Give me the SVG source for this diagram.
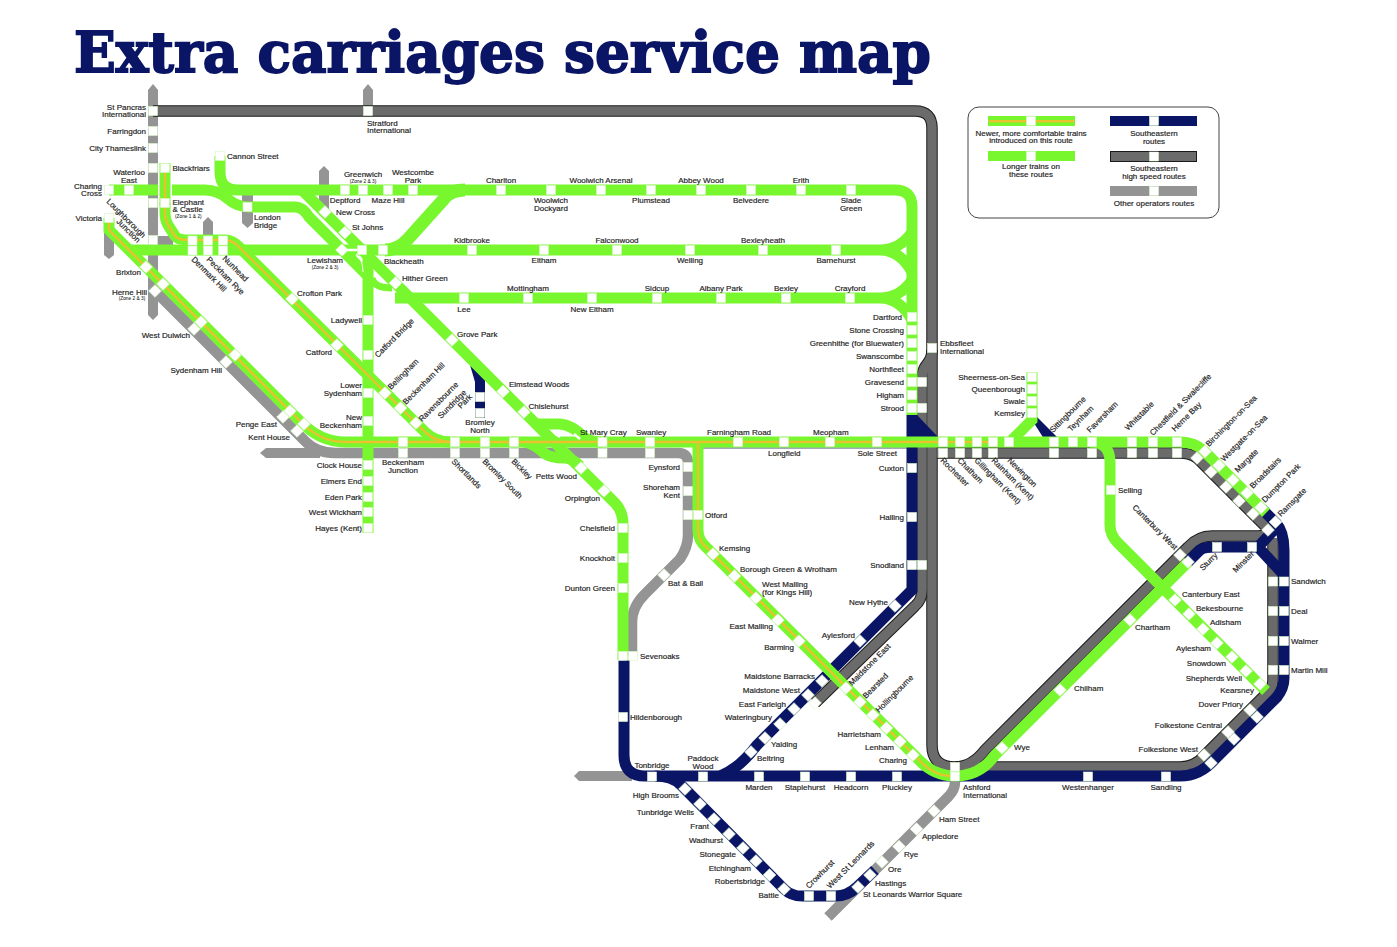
<svg xmlns="http://www.w3.org/2000/svg" width="1397" height="947" viewBox="0 0 1397 947">
<style>
text{font-family:"Liberation Sans",Arial,sans-serif;font-size:8px;fill:#232323;stroke:#232323;stroke-width:.18}
.e{text-anchor:end}.m{text-anchor:middle}
.z{font-size:4.8px;stroke-width:.05}
.title{font-family:"DejaVu Serif",serif;font-weight:700;font-size:56px;fill:#0a1565;stroke:#0a1565;stroke-width:1.8}
path,line{fill:none}
.o{stroke:#949494;stroke-width:10.5}
.of{fill:#949494}
.hc{stroke:#1a1a1a;stroke-width:11.5}
.h{stroke:#6b6b6b;stroke-width:9.5}
.n{stroke:#0a1565;stroke-width:11}
.nf{fill:#0a1565}
.g{stroke:#78f72e;stroke-width:11}
.y{stroke:#e9c32d;stroke-width:2.4}
.st{fill:#fff;stroke:#d8f7c6;stroke-width:.6}
</style>
<defs>
<rect id="s" class="st" x="-4.5" y="-4.500" width="9" height="9"/>
<rect id="d" class="st" x="-4.5" y="-4.500" width="9" height="9" transform="rotate(45)"/>
</defs>
<text class="title" x="74" y="72" textLength="857" lengthAdjust="spacingAndGlyphs">Extra carriages service map</text>

<g id="connectors">
<g id="other-operators">
<polygon class="of" points="148,90 153,84 158,90 158,315 153,320 148,315"/>
<polygon class="of" points="363,90 368,84 373,90 373,112 363,112"/>
<polygon class="of" points="104,218 114,218 114,255 109,259 104,255"/>
<polygon class="of" points="203,222 208,217 213,222 213,241 203,241"/>
<polygon class="of" points="242,195 253,195 253,223 247.5,228 242,223"/>
<polygon class="of" points="319,171 324,166 329,171 329,214 319,214"/>
<polygon class="of" points="574,776 579,771 632,771 632,781 579,781"/>
<polygon class="of" points="260,453 266,448 320,448 320,458 266,458"/>
<rect class="of" x="153" y="236" width="20" height="10"/>
<path class="o" d="M155,291 L306,442 Q317,453 335,453 L678,453 Q688,453 688,463 L688,535 Q688,547 680,559 L645,594 Q632,607 632,622 L632,656"/>
<path class="o" d="M955,780 L955,782 Q955,790 948,797 L828,917"/>
</g>
<g id="high-speed">
<path class="hc" d="M153,111 L915,111 Q932,111 932,128 L932,745 Q932,767 955,767 Q972,767 985,750 L1188,547 Q1198,536 1212,536 L1258,536 Q1265,536 1272,530"/>
<path class="hc" d="M932,350 Q932,358 927,364 Q922,370 922,378 L922,590 Q922,600 915,606 L815,703"/>
<path class="hc" d="M937,453 L1180,453 Q1190,453 1197,458 L1272,533"/>
<path class="hc" d="M955,767 L1180,767 Q1195,767 1205,755 L1266,694 Q1273,688 1273,680 L1273,538"/>
<path class="h" d="M153,111 L915,111 Q932,111 932,128 L932,745 Q932,767 955,767 Q972,767 985,750 L1188,547 Q1198,536 1212,536 L1258,536 Q1265,536 1272,530"/>
<path class="h" d="M932,350 Q932,358 927,364 Q922,370 922,378 L922,590 Q922,600 915,606 L815,703"/>
<path class="h" d="M937,453 L1180,453 Q1190,453 1197,458 L1272,533"/>
<path class="h" d="M955,767 L1180,767 Q1195,767 1205,755 L1266,694 Q1273,688 1273,680 L1273,538"/>
</g>
<g id="southeastern">
<path class="n" d="M624,660 L624,755 Q624,776 645,776 L1180,776 Q1200,776 1215,759 L1277,697 Q1284,688 1284,678 L1284,550 Q1284,532 1276,523 L1262,509"/>
<path class="n" d="M912,415 L912,590 L757,745 Q740,768 720,776"/>
<path class="n" d="M655,776 Q672,776 681,785 L784,889 Q792,897 805,896 L835,896 Q848,896 857,887 L875,870"/>
<path class="n" d="M1188,562 L1200,550 Q1204,547 1215,547 L1258,547 L1284,575 M1258,547 L1274,530"/>
<polygon class="nf" points="907,415 917,415 938,437 938,442 907,442"/>
<polygon class="nf" points="1032,420 1037,417 1057,437 1057,442 1046,442"/>
<polygon class="nf" points="470,365 485,380 485,418 475,418 475,382"/>
</g>
<g id="longer-trains">
<path class="g" d="M1188,562 L995,755 Q980,776 955,776"/>
<path class="g" d="M1090,442 Q1110,442 1110,462 L1110,525 Q1110,535 1118,543 L1266,691"/>
<path class="g" d="M109,190 L158,190"/>
<path class="g" d="M172,190 L205,190 Q218,190 228,199 Q237,207 250,207 L295,207 Q303,207 309,217 L368,276"/>
<path class="g" d="M220,156 L220,172 Q220,190 238,190 L895,190 Q912,190 912,207 L912,415"/>
<path class="g" d="M302,190 L615,503 Q623,511 623,525 L623,660"/>
<path class="g" d="M130,250 L880,250 Q900,250 912,232 M880,250 Q900,250 912,272"/>
<path class="g" d="M368,250 L368,533"/>
<path class="g" d="M395,298 L880,298 Q900,298 912,280 M880,298 Q900,298 912,320"/>
<path class="g" style="stroke-width:13" d="M385,250 Q398,250 408,239 L443,200 Q450,190 465,190"/>
<path class="g" style="stroke-width:7" d="M372,278 Q374,288 392,288"/>
<path class="g" d="M536,424 L560,424 Q572,425 584,437 Q590,442 602,442"/>
<path class="g" d="M525,442 Q535,444 544,453 Q550,458 565,458 Q572,458 580,466"/>
<path class="g" d="M1032,372 L1032,420 L1012,440"/>
<line x1="702" y1="448" x2="908" y2="448" stroke="#1a2a50" stroke-width=".8"/>
<path class="g" d="M109,218 L109,230 L300,421 Q320,442 345,442 L1180,442 Q1195,442 1204,451 L1266,513"/>
<line x1="171" y1="184" x2="171" y2="197" stroke="#fff" stroke-width="2"/>
<path class="g" d="M165,163 L165,205"/>
<path class="g" d="M165,203 L165,212 Q165,220 168,225 L175,236 Q178,240 188,240 L225,240 Q232,240 238,246 L425,432 Q436,442 450,442"/>
<path class="g" d="M698,442 L698,530 Q698,540 706,547 L920,761 Q935,776 955,776"/>
<path class="y" d="M109,222 L109,230 L300,421 Q320,442 345,442 L988,442"/>
<path class="y" d="M165,170 L165,212 Q165,220 168,225 L175,236 Q178,240 188,240 L225,240 Q232,240 238,246 L425,432 Q436,442 450,442"/>
<path class="y" d="M698,442 L698,530 Q698,540 706,547 L920,761 Q935,776 950,776"/>
<line x1="342" y1="250" x2="362" y2="250" stroke="#fff" stroke-width="2.5"/>
<path d="M356,254 Q363,260 363,272" stroke="#fff" stroke-width="1"/>
<path d="M311,210 L342,241" stroke="#fff" stroke-width="1"/>
<path d="M554,432 L560,437 M574,434 L580,439" stroke="#fff" stroke-width="2.5"/>
</g>
</g>

<g id="legend">
<rect x="968" y="107" width="251" height="111" rx="11" fill="#fff" stroke="#444" stroke-width="1"/>
<rect x="988" y="116" width="87" height="10" fill="#78f72e"/><rect x="989" y="120" width="85" height="2.400" fill="#e9c32d"/><use href="#s" x="1031" y="121"/>
<rect x="988" y="151" width="87" height="10" fill="#78f72e"/><use href="#s" x="1031" y="156"/>
<rect x="1110" y="116" width="87" height="10" fill="#0a1565"/><use href="#s" x="1154" y="121"/>
<rect x="1110.500" y="151.500" width="86" height="10" fill="#6b6b6b" stroke="#1a1a1a"/><use href="#s" x="1154" y="156.500"/>
<rect x="1110" y="186" width="87" height="10" fill="#949494"/><use href="#s" x="1154" y="191"/>
<text class="m"><tspan x="1031" y="135.500">Newer, more comfortable trains</tspan><tspan x="1031" y="143">introduced on this route</tspan></text>
<text class="m"><tspan x="1031" y="169">Longer trains on</tspan><tspan x="1031" y="177">these routes</tspan></text>
<text class="m"><tspan x="1154" y="136">Southeastern</tspan><tspan x="1154" y="143.500">routes</tspan></text>
<text class="m"><tspan x="1154" y="171">Southeastern</tspan><tspan x="1154" y="178.500">high speed routes</tspan></text>
<text class="m" x="1154" y="205.500">Other operators routes</text>
</g>

<g id="stations">
<g id="st-pancras"><use href="#s" x="153" y="111"/><text class="e"><tspan x="146" y="109.500">St Pancras</tspan><tspan x="146" y="117">International</tspan></text></g>
<g id="stratford"><use href="#s" x="368" y="111"/><text><tspan x="367" y="125.500">Stratford</tspan><tspan x="367" y="133">International</tspan></text></g>
<g id="farringdon"><use href="#s" x="153" y="131"/><text class="e" x="146" y="134">Farringdon</text></g>
<g id="city-thameslink"><use href="#s" x="153" y="148"/><text class="e" x="146" y="151">City Thameslink</text></g>
<g id="charing-cross"><use href="#s" x="109" y="190"/><text class="e"><tspan x="102" y="188.500">Charing</tspan><tspan x="102" y="196">Cross</tspan></text></g>
<g id="waterloo-east"><use href="#s" x="129" y="190"/><text class="m"><tspan x="129" y="175">Waterloo</tspan><tspan x="129" y="183">East</tspan></text></g>
<g id="victoria"><use href="#s" x="109" y="218"/><text class="e" x="102" y="220.500">Victoria</text></g>
<g id="blackfriars"><use href="#s" x="153" y="168"/><use href="#s" x="165" y="168"/><text x="172.500" y="170.500">Blackfriars</text></g>
<g id="elephant-castle"><use href="#s" x="153" y="203"/><use href="#s" x="165" y="203"/><text><tspan x="172.500" y="204.500">Elephant</tspan><tspan x="172.500" y="212">&amp; Castle</tspan></text><text class="z" x="175" y="217.500">(Zone 1 &amp; 2)</text></g>
<g id="cannon-street"><use href="#s" x="220" y="156"/><text x="227" y="158.500">Cannon Street</text></g>
<g id="loughborough-junction"><use href="#s" x="153" y="240"/><text transform="translate(106,202) rotate(45)">Loughborough</text><text transform="translate(116,222) rotate(45)">Junction</text></g>
<g id="denmark-hill"><use href="#s" x="192.500" y="240.500"/><use href="#s" x="192.500" y="250.500"/><text transform="translate(191,260) rotate(45)">Denmark Hill</text></g>
<g id="peckham-rye"><use href="#s" x="208" y="240.500"/><use href="#s" x="208" y="250.500"/><text transform="translate(206,260) rotate(45)">Peckham Rye</text></g>
<g id="nunhead"><use href="#s" x="223" y="240.500"/><use href="#s" x="223" y="250.500"/><text transform="translate(222,259) rotate(45)">Nunhead</text></g>
<g id="greenwich"><use href="#s" x="363" y="190"/><text class="m" x="363" y="177">Greenwich</text><text class="z m" x="363" y="182.500">(Zone 2 &amp; 3)</text></g>
<g id="westcombe-park"><use href="#s" x="413" y="190"/><text class="m"><tspan x="413" y="175">Westcombe</tspan><tspan x="413" y="183">Park</tspan></text></g>
<g id="deptford"><use href="#s" x="345" y="190"/><text class="m" x="345" y="203">Deptford</text></g>
<g id="maze-hill"><use href="#s" x="388" y="190"/><text class="m" x="388" y="203">Maze Hill</text></g>
<g id="new-cross"><use href="#d" x="325" y="212"/><text x="336" y="215">New Cross</text></g>
<g id="st-johns"><use href="#d" x="345" y="232.500"/><text x="352" y="230">St Johns</text></g>
<g id="london-bridge"><use href="#s" x="247.500" y="207"/><text><tspan x="254" y="220">London</tspan><tspan x="254" y="227.500">Bridge</tspan></text></g>
<g id="lewisham"><use href="#d" x="342" y="250"/><use href="#s" x="362" y="250"/><text class="m" x="325" y="263">Lewisham</text><text class="z m" x="325" y="268.500">(Zone 2 &amp; 3)</text></g>
<g id="blackheath"><use href="#s" x="383" y="250"/><text x="384" y="264">Blackheath</text></g>
<g id="hither-green"><use href="#d" x="395.500" y="283"/><text x="402" y="281">Hither Green</text></g>
<g id="crofton-park"><use href="#d" x="292" y="299"/><text x="297" y="296">Crofton Park</text></g>
<g id="ladywell"><use href="#s" x="368" y="320"/><text class="e" x="362" y="323">Ladywell</text></g>
<g id="catford-bridge"><use href="#s" x="368" y="355"/><text transform="translate(378,358) rotate(-45)">Catford Bridge</text></g>
<g id="catford"><use href="#d" x="337" y="345"/><text class="e" x="332" y="355">Catford</text></g>
<g id="brixton"><use href="#d" x="146" y="267"/><text class="e" x="141" y="274.500">Brixton</text></g>
<g id="loughborough-diag"><use href="#d" x="163" y="284"/></g>
<g id="herne-hill"><use href="#d" x="155" y="291"/><text class="e" x="147" y="295">Herne Hill</text><text class="z m" x="132" y="300">(Zone 2 &amp; 3)</text></g>
<g id="west-dulwich"><use href="#d" x="194" y="329"/><use href="#d" x="201" y="322"/><text class="e" x="190" y="338">West Dulwich</text></g>
<g id="sydenham-hill"><use href="#d" x="226" y="362"/><use href="#d" x="235" y="355"/><text class="e" x="222" y="372.500">Sydenham Hill</text></g>
<g id="penge-east"><use href="#d" x="283" y="417"/><use href="#d" x="290" y="411"/><text class="e" x="277" y="427">Penge East</text></g>
<g id="kent-house"><use href="#d" x="297" y="431"/><use href="#d" x="304" y="424"/><text class="e" x="290" y="440">Kent House</text></g>
<g id="lower-sydenham"><use href="#s" x="368" y="393"/><text class="e"><tspan x="362" y="388">Lower</tspan><tspan x="362" y="396">Sydenham</tspan></text></g>
<g id="new-beckenham"><use href="#s" x="368" y="421"/><text class="e"><tspan x="362" y="420">New</tspan><tspan x="362" y="427.500">Beckenham</tspan></text></g>
<g id="clock-house"><use href="#s" x="368" y="465"/><text class="e" x="362" y="468">Clock House</text></g>
<g id="elmers-end"><use href="#s" x="368" y="481"/><text class="e" x="362" y="484">Elmers End</text></g>
<g id="eden-park"><use href="#s" x="368" y="497"/><text class="e" x="362" y="499.500">Eden Park</text></g>
<g id="west-wickham"><use href="#s" x="368" y="512"/><text class="e" x="362" y="515">West Wickham</text></g>
<g id="hayes"><use href="#s" x="368" y="528"/><text class="e" x="362" y="531">Hayes (Kent)</text></g>
<g id="beckenham-junction"><use href="#s" x="403" y="442"/><use href="#s" x="403" y="453"/><text class="m"><tspan x="403" y="465">Beckenham</tspan><tspan x="403" y="472.500">Junction</tspan></text></g>
<g id="bellingham"><use href="#d" x="385" y="393"/><text transform="translate(391,390) rotate(-45)">Bellingham</text></g>
<g id="beckenham-hill"><use href="#d" x="400.500" y="408"/><text transform="translate(406,405) rotate(-45)">Beckenham Hill</text></g>
<g id="ravensbourne"><use href="#d" x="416" y="423"/><text transform="translate(422,422) rotate(-45)">Ravensbourne</text></g>
<g id="sundridge-park"><use href="#s" x="480" y="397"/><text transform="translate(441,419) rotate(-45)">Sundridge</text><text transform="translate(461,409) rotate(-45)">Park</text></g>
<g id="bromley-north"><use href="#s" x="480" y="413"/><text class="m"><tspan x="480" y="425">Bromley</tspan><tspan x="480" y="432.500">North</tspan></text></g>
<g id="grove-park"><use href="#d" x="452" y="340"/><text x="457" y="336.500">Grove Park</text></g>
<g id="elmstead-woods"><use href="#d" x="503" y="391.500"/><text x="509" y="387">Elmstead Woods</text></g>
<g id="chislehurst"><use href="#d" x="524" y="412"/><text x="528.500" y="408.500">Chislehurst</text></g>
<g id="shortlands"><use href="#s" x="455" y="442"/><use href="#s" x="455" y="453"/><text transform="translate(451,462) rotate(45)">Shortlands</text></g>
<g id="bromley-south"><use href="#s" x="485" y="442"/><use href="#s" x="485" y="453"/><text transform="translate(482,462) rotate(45)">Bromley South</text></g>
<g id="bickley"><use href="#s" x="514" y="442"/><use href="#s" x="514" y="453"/><text transform="translate(511,462) rotate(45)">Bickley</text></g>
<g id="st-mary-cray"><use href="#s" x="602.500" y="442"/><use href="#s" x="602.500" y="453"/><text x="580" y="434.500">St Mary Cray</text></g>
<g id="swanley"><use href="#s" x="650" y="442"/><use href="#s" x="650" y="453"/><text x="636" y="434.500">Swanley</text></g>
<g id="farningham-road"><use href="#s" x="738" y="442"/><text x="707" y="434.500">Farningham Road</text></g>
<g id="longfield"><use href="#s" x="784" y="442"/><text x="768" y="456">Longfield</text></g>
<g id="meopham"><use href="#s" x="830" y="442"/><text x="813" y="434.500">Meopham</text></g>
<g id="sole-street"><use href="#s" x="877" y="442"/><text x="857.500" y="456">Sole Street</text></g>
<g id="petts-wood"><use href="#d" x="581" y="468"/><text class="e" x="577" y="478.500">Petts Wood</text></g>
<g id="orpington"><use href="#d" x="604" y="491"/><text class="e" x="600" y="500.500">Orpington</text></g>
<g id="chelsfield"><use href="#s" x="623" y="528"/><text class="e" x="615" y="530.500">Chelsfield</text></g>
<g id="knockholt"><use href="#s" x="623" y="558"/><text class="e" x="615" y="560.500">Knockholt</text></g>
<g id="dunton-green"><use href="#s" x="623" y="588"/><text class="e" x="615" y="590.500">Dunton Green</text></g>
<g id="sevenoaks"><use href="#s" x="623" y="656"/><use href="#s" x="633" y="656"/><text x="640" y="658.500">Sevenoaks</text></g>
<g id="hildenborough"><use href="#s" x="623" y="717"/><text x="630" y="720">Hildenborough</text></g>
<g id="eynsford"><use href="#s" x="688" y="467"/><text class="e" x="680" y="470">Eynsford</text></g>
<g id="shoreham"><use href="#s" x="688" y="491"/><text class="e"><tspan x="680" y="490">Shoreham</tspan><tspan x="680" y="497.500">Kent</tspan></text></g>
<g id="otford"><use href="#s" x="688" y="515"/><use href="#s" x="698" y="515"/><text x="705" y="518">Otford</text></g>
<g id="bat-ball"><use href="#d" x="664" y="575"/><text x="668" y="586">Bat &amp; Ball</text></g>
<g id="kemsing"><use href="#d" x="713" y="554"/><text x="719" y="551">Kemsing</text></g>
<g id="borough-green"><use href="#d" x="734.500" y="576"/><text x="740" y="572">Borough Green &amp; Wrotham</text></g>
<g id="west-malling"><use href="#d" x="756" y="598"/><text><tspan x="762" y="587">West Malling</tspan><tspan x="762" y="595">(for Kings Hill)</tspan></text></g>
<g id="east-malling"><use href="#d" x="778" y="620"/><text class="e" x="773" y="629">East Malling</text></g>
<g id="barming"><use href="#d" x="799" y="641"/><text class="e" x="794" y="649.500">Barming</text></g>
<g id="maidstone-east"><use href="#d" x="846" y="688"/><text transform="translate(852,686) rotate(-45)">Maidstone East</text></g>
<g id="bearsted"><use href="#d" x="860" y="702"/><text transform="translate(866,699) rotate(-45)">Bearsted</text></g>
<g id="hollingbourne"><use href="#d" x="873" y="715"/><text transform="translate(879,713) rotate(-45)">Hollingbourne</text></g>
<g id="harrietsham"><use href="#d" x="886.500" y="728"/><text class="e" x="881" y="737">Harrietsham</text></g>
<g id="lenham"><use href="#d" x="900" y="741.500"/><text class="e" x="894" y="750">Lenham</text></g>
<g id="charing"><use href="#d" x="913" y="755"/><text class="e" x="907" y="763">Charing</text></g>
<g id="maidstone-barracks"><use href="#d" x="822" y="681"/><text class="e" x="815" y="678.500">Maidstone Barracks</text></g>
<g id="maidstone-west"><use href="#d" x="808" y="695"/><use href="#d" x="815" y="703"/><text class="e" x="800" y="692.500">Maidstone West</text></g>
<g id="east-farleigh"><use href="#d" x="794" y="709"/><text class="e" x="786" y="707">East Farleigh</text></g>
<g id="wateringbury"><use href="#d" x="780" y="724"/><text class="e" x="772" y="720">Wateringbury</text></g>
<g id="yalding"><use href="#d" x="765" y="738"/><text x="771" y="747">Yalding</text></g>
<g id="beltring"><use href="#d" x="751" y="752"/><text x="757" y="761">Beltring</text></g>
<g id="aylesford"><use href="#d" x="860" y="641"/><text class="e" x="855" y="638">Aylesford</text></g>
<g id="new-hythe"><use href="#d" x="895" y="606"/><text class="e" x="888" y="605">New Hythe</text></g>
<g id="snodland"><use href="#s" x="912" y="565"/><use href="#s" x="922" y="565"/><text class="e" x="904" y="568">Snodland</text></g>
<g id="halling"><use href="#s" x="912" y="517"/><text class="e" x="904" y="520">Halling</text></g>
<g id="cuxton"><use href="#s" x="912" y="468"/><text class="e" x="904" y="471">Cuxton</text></g>
<g id="tonbridge"><use href="#s" x="652" y="776.500"/><text class="m" x="652" y="768">Tonbridge</text></g>
<g id="paddock-wood"><use href="#s" x="703" y="776.500"/><text class="m"><tspan x="703" y="761">Paddock</tspan><tspan x="703" y="768.500">Wood</tspan></text></g>
<g id="marden"><use href="#s" x="759" y="776.500"/><text class="m" x="759" y="790">Marden</text></g>
<g id="staplehurst"><use href="#s" x="805" y="776.500"/><text class="m" x="805" y="790">Staplehurst</text></g>
<g id="headcorn"><use href="#s" x="851" y="776.500"/><text class="m" x="851" y="790">Headcorn</text></g>
<g id="pluckley"><use href="#s" x="897" y="776.500"/><text class="m" x="897" y="790">Pluckley</text></g>
<g id="ashford"><use href="#s" x="955" y="767"/><use href="#s" x="955" y="776.500"/><text><tspan x="963" y="790">Ashford</tspan><tspan x="963" y="797.500">International</tspan></text></g>
<g id="high-brooms"><use href="#d" x="685" y="789"/><text class="e" x="679" y="798">High Brooms</text></g>
<g id="tunbridge-wells"><use href="#d" x="700" y="804"/><text class="e" x="694" y="815">Tunbridge Wells</text></g>
<g id="frant"><use href="#d" x="714" y="819"/><text class="e" x="709" y="829">Frant</text></g>
<g id="wadhurst"><use href="#d" x="729" y="834"/><text class="e" x="723" y="843">Wadhurst</text></g>
<g id="stonegate"><use href="#d" x="743" y="848"/><text class="e" x="736" y="856.500">Stonegate</text></g>
<g id="etchingham"><use href="#d" x="756" y="861"/><text class="e" x="751" y="870.500">Etchingham</text></g>
<g id="robertsbridge"><use href="#d" x="769.500" y="875"/><text class="e" x="765" y="884">Robertsbridge</text></g>
<g id="battle"><use href="#d" x="784" y="889"/><text class="e" x="779" y="898">Battle</text></g>
<g id="crowhurst"><use href="#s" x="809" y="896"/><text transform="translate(809,889) rotate(-45)">Crowhurst</text></g>
<g id="west-st-leonards"><use href="#s" x="831" y="896"/><text transform="translate(830,889) rotate(-45)">West St Leonards</text></g>
<g id="st-leonards-warrior-square"><use href="#d" x="858" y="887"/><text x="863" y="897">St Leonards Warrior Square</text></g>
<g id="hastings"><use href="#d" x="870" y="875"/><text x="875" y="886">Hastings</text></g>
<g id="ore"><use href="#d" x="882" y="862"/><text x="888" y="872">Ore</text></g>
<g id="rye"><use href="#d" x="899" y="846.500"/><text x="904" y="857">Rye</text></g>
<g id="appledore"><use href="#d" x="916.500" y="829"/><text x="922" y="838.500">Appledore</text></g>
<g id="ham-street"><use href="#d" x="934" y="811"/><text x="939" y="822">Ham Street</text></g>
<g id="westenhanger"><use href="#s" x="1088" y="776.500"/><text class="m" x="1088" y="790">Westenhanger</text></g>
<g id="sandling"><use href="#s" x="1166" y="776.500"/><text class="m" x="1166" y="790">Sandling</text></g>
<g id="folkestone-west"><use href="#d" x="1204" y="755"/><use href="#d" x="1211" y="763"/><text class="e" x="1198" y="752">Folkestone West</text></g>
<g id="folkestone-central"><use href="#d" x="1228" y="732"/><use href="#d" x="1234" y="739"/><text class="e" x="1222" y="728">Folkestone Central</text></g>
<g id="dover-priory"><use href="#d" x="1250" y="710"/><use href="#d" x="1257" y="717"/><text class="e" x="1243" y="707">Dover Priory</text></g>
<g id="kearsney"><text class="e" x="1254" y="693">Kearsney</text><use href="#d" x="1260" y="684"/></g>
<g id="shepherds-well"><use href="#d" x="1246" y="671"/><text class="e" x="1242" y="681">Shepherds Well</text></g>
<g id="snowdown"><use href="#d" x="1232" y="657"/><text class="e" x="1226" y="665.500">Snowdown</text></g>
<g id="aylesham"><use href="#d" x="1217" y="643"/><text class="e" x="1211" y="651">Aylesham</text></g>
<g id="adisham"><use href="#d" x="1203" y="629"/><text x="1210" y="625">Adisham</text></g>
<g id="bekesbourne"><use href="#d" x="1189" y="614"/><text x="1196" y="611">Bekesbourne</text></g>
<g id="canterbury-east"><use href="#d" x="1175" y="600"/><text x="1182" y="597">Canterbury East</text></g>
<g id="chartham"><use href="#d" x="1130" y="620"/><text x="1135" y="630">Chartham</text></g>
<g id="chilham"><use href="#d" x="1060" y="690"/><text x="1074" y="691">Chilham</text></g>
<g id="wye"><use href="#d" x="1002" y="748"/><text x="1014" y="750">Wye</text></g>
<g id="sandwich"><use href="#s" x="1273" y="581.500"/><use href="#s" x="1284" y="581.500"/><text x="1291" y="584">Sandwich</text></g>
<g id="deal"><use href="#s" x="1273" y="611"/><use href="#s" x="1284" y="611"/><text x="1291" y="614">Deal</text></g>
<g id="walmer"><use href="#s" x="1273" y="641"/><use href="#s" x="1284" y="641"/><text x="1291" y="644">Walmer</text></g>
<g id="martin-mill"><use href="#s" x="1273" y="670"/><use href="#s" x="1284" y="670"/><text x="1291" y="673">Martin Mill</text></g>
<g id="sturry"><use href="#d" x="1180" y="555"/><use href="#d" x="1188" y="562"/><use href="#s" x="1217" y="547"/><text transform="translate(1203,571) rotate(-45)">Sturry</text></g>
<g id="minster"><use href="#s" x="1252" y="547"/><text transform="translate(1236,573) rotate(-45)">Minster</text></g>
<g id="canterbury-west"><text transform="translate(1132,508) rotate(45)">Canterbury West</text></g>
<g id="selling"><use href="#s" x="1111" y="490"/><text x="1118" y="493">Selling</text></g>
<g id="dartford"><use href="#s" x="912" y="317"/><text class="e" x="902" y="319.500">Dartford</text></g>
<g id="stone-crossing"><use href="#s" x="912" y="330"/><text class="e" x="904" y="332.500">Stone Crossing</text></g>
<g id="greenhithe"><use href="#s" x="912" y="343"/><text class="e" x="904" y="345.500">Greenhithe (for Bluewater)</text></g>
<g id="swanscombe"><use href="#s" x="912" y="356"/><text class="e" x="904" y="358.500">Swanscombe</text></g>
<g id="northfleet"><use href="#s" x="912" y="369"/><text class="e" x="904" y="371.500">Northfleet</text></g>
<g id="gravesend"><use href="#s" x="912" y="382"/><use href="#s" x="922" y="382"/><text class="e" x="904" y="384.500">Gravesend</text></g>
<g id="higham"><use href="#s" x="912" y="395"/><text class="e" x="904" y="397.500">Higham</text></g>
<g id="strood"><use href="#s" x="912" y="408"/><use href="#s" x="922" y="408"/><text class="e" x="904" y="410.500">Strood</text></g>
<g id="ebbsfleet"><use href="#s" x="932" y="348"/><text><tspan x="940" y="346">Ebbsfleet</tspan><tspan x="940" y="353.500">International</tspan></text></g>
<g id="sheerness"><use href="#s" x="1032" y="377"/><text class="e" x="1025" y="380">Sheerness-on-Sea</text></g>
<g id="queenborough"><use href="#s" x="1032" y="389"/><text class="e" x="1025" y="391.500">Queenborough</text></g>
<g id="swale"><use href="#s" x="1032" y="401"/><text class="e" x="1025" y="403.500">Swale</text></g>
<g id="kemsley"><use href="#s" x="1032" y="413"/><text class="e" x="1025" y="416">Kemsley</text></g>
<g id="rochester"><use href="#s" x="943" y="442"/><use href="#s" x="943" y="453"/><text transform="translate(940,461) rotate(45)">Rochester</text></g>
<g id="chatham"><use href="#s" x="960" y="442"/><use href="#s" x="960" y="453"/><text transform="translate(957,461) rotate(45)">Chatham</text></g>
<g id="gillingham"><use href="#s" x="977" y="442"/><use href="#s" x="977" y="453"/><text transform="translate(974,461) rotate(45)">Gillingham (Kent)</text></g>
<g id="rainham"><use href="#s" x="993" y="442"/><use href="#s" x="993" y="453"/><text transform="translate(991,461) rotate(45)">Rainham (Kent)</text></g>
<g id="newington"><use href="#s" x="1009" y="442"/><text transform="translate(1007,461) rotate(45)">Newington</text></g>
<g id="sittingbourne"><use href="#s" x="1054" y="442"/><use href="#s" x="1054" y="453"/><text transform="translate(1053,433) rotate(-45)">Sittingbourne</text></g>
<g id="teynham"><use href="#s" x="1073" y="442"/><text transform="translate(1071,432) rotate(-45)">Teynham</text></g>
<g id="faversham"><use href="#s" x="1092" y="442"/><use href="#s" x="1092" y="453"/><text transform="translate(1090,433) rotate(-45)">Faversham</text></g>
<g id="whitstable"><use href="#s" x="1132" y="442"/><use href="#s" x="1132" y="453"/><text transform="translate(1128,431) rotate(-45)">Whitstable</text></g>
<g id="chestfield"><use href="#s" x="1153" y="442"/><use href="#s" x="1153" y="453"/><text transform="translate(1153,436) rotate(-45)">Chestfield &amp; Swalecliffe</text></g>
<g id="herne-bay"><use href="#s" x="1177" y="442"/><use href="#s" x="1177" y="453"/><text transform="translate(1175,432) rotate(-45)">Herne Bay</text></g>
<g id="birchington"><use href="#d" x="1205" y="451.500"/><use href="#d" x="1197" y="458"/><text transform="translate(1209,447) rotate(-45)">Birchington-on-Sea</text></g>
<g id="westgate"><use href="#d" x="1219" y="465.500"/><use href="#d" x="1211" y="472"/><text transform="translate(1224,462) rotate(-45)">Westgate-on-Sea</text></g>
<g id="margate"><use href="#d" x="1233" y="480"/><use href="#d" x="1226" y="487"/><text transform="translate(1238,473) rotate(-45)">Margate</text></g>
<g id="broadstairs"><use href="#d" x="1247" y="493"/><use href="#d" x="1239" y="501"/><text transform="translate(1253,489) rotate(-45)">Broadstairs</text></g>
<g id="dumpton-park"><use href="#d" x="1261" y="507.500"/><use href="#d" x="1253" y="514"/><text transform="translate(1265,503) rotate(-45)">Dumpton Park</text></g>
<g id="ramsgate"><use href="#d" x="1275.500" y="522"/><use href="#d" x="1268" y="530"/><text transform="translate(1281,517) rotate(-45)">Ramsgate</text></g>
<g id="charlton"><use href="#s" x="501" y="190"/><text class="m" x="501" y="182.500">Charlton</text></g>
<g id="woolwich-dockyard"><use href="#s" x="551" y="190"/><text class="m"><tspan x="551" y="203">Woolwich</tspan><tspan x="551" y="210.500">Dockyard</tspan></text></g>
<g id="woolwich-arsenal"><use href="#s" x="601" y="190"/><text class="m" x="601" y="182.500">Woolwich Arsenal</text></g>
<g id="plumstead"><use href="#s" x="651" y="190"/><text class="m" x="651" y="203">Plumstead</text></g>
<g id="abbey-wood"><use href="#s" x="701" y="190"/><text class="m" x="701" y="182.500">Abbey Wood</text></g>
<g id="belvedere"><use href="#s" x="751" y="190"/><text class="m" x="751" y="203">Belvedere</text></g>
<g id="erith"><use href="#s" x="801" y="190"/><text class="m" x="801" y="182.500">Erith</text></g>
<g id="slade-green"><use href="#s" x="851" y="190"/><text class="m"><tspan x="851" y="203">Slade</tspan><tspan x="851" y="210.500">Green</tspan></text></g>
<g id="kidbrooke"><use href="#s" x="472" y="250"/><text class="m" x="472" y="243">Kidbrooke</text></g>
<g id="eltham"><use href="#s" x="544" y="250"/><text class="m" x="544" y="263">Eltham</text></g>
<g id="falconwood"><use href="#s" x="617" y="250"/><text class="m" x="617" y="243">Falconwood</text></g>
<g id="welling"><use href="#s" x="690" y="250"/><text class="m" x="690" y="263">Welling</text></g>
<g id="bexleyheath"><use href="#s" x="763" y="250"/><text class="m" x="763" y="243">Bexleyheath</text></g>
<g id="barnehurst"><use href="#s" x="836" y="250"/><text class="m" x="836" y="263">Barnehurst</text></g>
<g id="lee"><use href="#s" x="464" y="298"/><text class="m" x="464" y="312">Lee</text></g>
<g id="mottingham"><use href="#s" x="528" y="298"/><text class="m" x="528" y="291">Mottingham</text></g>
<g id="new-eltham"><use href="#s" x="592" y="298"/><text class="m" x="592" y="312">New Eltham</text></g>
<g id="sidcup"><use href="#s" x="657" y="298"/><text class="m" x="657" y="291">Sidcup</text></g>
<g id="albany-park"><use href="#s" x="721" y="298"/><text class="m" x="721" y="291">Albany Park</text></g>
<g id="bexley"><use href="#s" x="786" y="298"/><text class="m" x="786" y="291">Bexley</text></g>
<g id="crayford"><use href="#s" x="850" y="298"/><text class="m" x="850" y="291">Crayford</text></g>
</g>
</svg>
